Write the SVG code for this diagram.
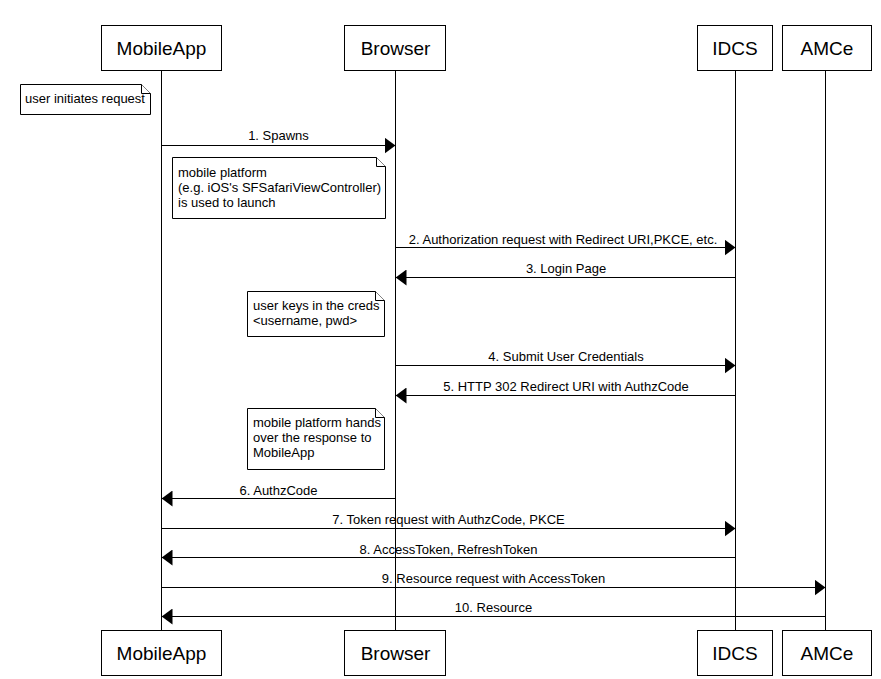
<svg xmlns="http://www.w3.org/2000/svg" width="881" height="679" viewBox="0 0 881 679">
<style>
.box{fill:#fff;stroke:#000;stroke-width:1}
.head{font-family:"Liberation Sans",Arial,sans-serif;font-size:19px;fill:#000;text-anchor:middle}
.life{stroke:#000;stroke-width:1;fill:none}
.msg{stroke:#000;stroke-width:1;fill:none}
.lbl{font-family:"Liberation Sans",Arial,sans-serif;font-size:13px;fill:#000;text-anchor:middle}
.note{fill:#fff;stroke:#000;stroke-width:1}
.ntxt{font-family:"Liberation Sans",Arial,sans-serif;font-size:13px;fill:#000}
</style>
<defs>
<marker id="ah" markerWidth="11" markerHeight="16" refX="11" refY="8" orient="auto" markerUnits="userSpaceOnUse">
<path d="M0,0 L11,8 L0,16 Z" fill="#000"/>
</marker>
</defs>
<rect width="881" height="679" fill="#fff"/>
<g id="lifelines">
<line class="life" x1="161.5" y1="70" x2="161.5" y2="630"/>
<line class="life" x1="395.5" y1="70" x2="395.5" y2="630"/>
<line class="life" x1="735.5" y1="70" x2="735.5" y2="630"/>
<line class="life" x1="825.5" y1="70" x2="825.5" y2="630"/>
</g>
<g id="MobileApp">
<rect class="box" x="101.5" y="25.5" width="120" height="45"/>
<text class="head" x="161.5" y="55">MobileApp</text>
<rect class="box" x="101.5" y="630.5" width="120" height="45"/>
<text class="head" x="161.5" y="660">MobileApp</text>
</g>
<g id="Browser">
<rect class="box" x="344.5" y="25.5" width="101" height="45"/>
<text class="head" x="395.5" y="55">Browser</text>
<rect class="box" x="344.5" y="630.5" width="101" height="45"/>
<text class="head" x="395.5" y="660">Browser</text>
</g>
<g id="IDCS">
<rect class="box" x="697.5" y="25.5" width="75" height="45"/>
<text class="head" x="735" y="55">IDCS</text>
<rect class="box" x="697.5" y="630.5" width="75" height="45"/>
<text class="head" x="735" y="660">IDCS</text>
</g>
<g id="AMCe">
<rect class="box" x="782.5" y="25.5" width="89" height="45"/>
<text class="head" x="827" y="55">AMCe</text>
<rect class="box" x="782.5" y="630.5" width="89" height="45"/>
<text class="head" x="827" y="660">AMCe</text>
</g>
<g id="note1">
<path class="note" d="M20.5,84.5 H141.5 L150.5,93.5 V114.5 H20.5 Z"/>
<path class="note" d="M141.5,84.5 V93.5 H150.5"/>
<text class="ntxt" x="25" y="103">user initiates request</text>
</g>
<g id="note2">
<path class="note" d="M172.5,157.5 H376.5 L385.5,166.5 V218.5 H172.5 Z"/>
<path class="note" d="M376.5,157.5 V166.5 H385.5"/>
<text class="ntxt" x="178" y="177">mobile platform</text>
<text class="ntxt" x="178" y="192">(e.g. iOS's SFSafariViewController)</text>
<text class="ntxt" x="178" y="207">is used to launch</text>
</g>
<g id="note3">
<path class="note" d="M247.5,291.5 H375.5 L384.5,300.5 V336.5 H247.5 Z"/>
<path class="note" d="M375.5,291.5 V300.5 H384.5"/>
<text class="ntxt" x="253" y="310">user keys in the creds</text>
<text class="ntxt" x="253" y="325">&lt;username, pwd&gt;</text>
</g>
<g id="note4">
<path class="note" d="M247.5,408.5 H375.5 L384.5,417.5 V469.5 H247.5 Z"/>
<path class="note" d="M375.5,408.5 V417.5 H384.5"/>
<text class="ntxt" x="253" y="427">mobile platform hands</text>
<text class="ntxt" x="253" y="442">over the response to</text>
<text class="ntxt" x="253" y="457">MobileApp</text>
</g>
<g id="connectors">
<line class="msg" x1="161.5" y1="145.5" x2="395.5" y2="145.5" marker-end="url(#ah)"/>
<text class="lbl" x="278.5" y="140">1. Spawns</text>
<line class="msg" x1="395.5" y1="247.5" x2="735.5" y2="247.5" marker-end="url(#ah)"/>
<text class="lbl" x="563" y="244">2. Authorization request with Redirect URI,PKCE, etc.</text>
<line class="msg" x1="735.5" y1="277.5" x2="395.5" y2="277.5" marker-end="url(#ah)"/>
<text class="lbl" x="566" y="273">3. Login Page</text>
<line class="msg" x1="395.5" y1="365.5" x2="735.5" y2="365.5" marker-end="url(#ah)"/>
<text class="lbl" x="566" y="361">4. Submit User Credentials</text>
<line class="msg" x1="735.5" y1="395.5" x2="395.5" y2="395.5" marker-end="url(#ah)"/>
<text class="lbl" x="566" y="391">5. HTTP 302 Redirect URI with AuthzCode</text>
<line class="msg" x1="395.5" y1="498.5" x2="161.5" y2="498.5" marker-end="url(#ah)"/>
<text class="lbl" x="278.5" y="495">6. AuthzCode</text>
<line class="msg" x1="161.5" y1="528.5" x2="735.5" y2="528.5" marker-end="url(#ah)"/>
<text class="lbl" x="448.5" y="524">7. Token request with AuthzCode, PKCE</text>
<line class="msg" x1="735.5" y1="557.5" x2="161.5" y2="557.5" marker-end="url(#ah)"/>
<text class="lbl" x="448.5" y="554">8. AccessToken, RefreshToken</text>
<line class="msg" x1="161.5" y1="587.5" x2="825.5" y2="587.5" marker-end="url(#ah)"/>
<text class="lbl" x="493.5" y="583">9. Resource request with AccessToken</text>
<line class="msg" x1="825.5" y1="616.5" x2="161.5" y2="616.5" marker-end="url(#ah)"/>
<text class="lbl" x="493.5" y="612">10. Resource</text>
</g>
</svg>
